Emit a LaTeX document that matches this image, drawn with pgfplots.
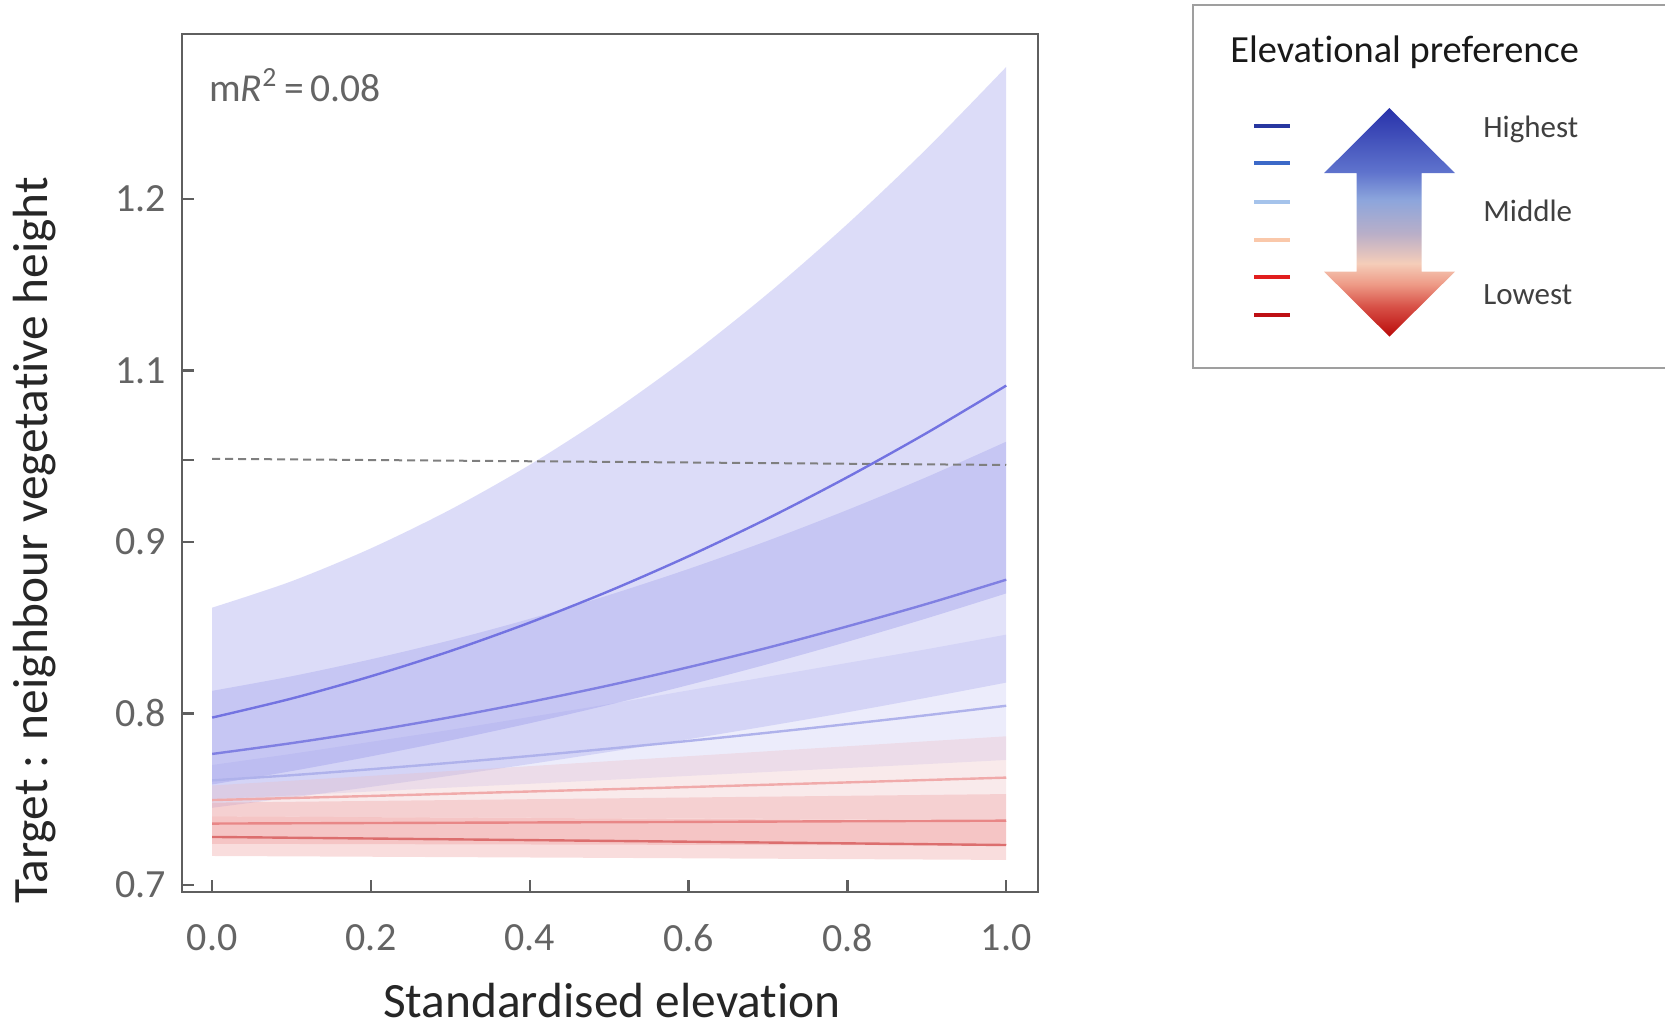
\documentclass[border=0pt]{standalone}
\usepackage{fontspec}
\setmainfont[Ligatures=NoCommon]{Carlito}
\usepackage{pgfplots}
\usepackage{pgfplotstable}
\pgfplotsset{compat=1.18}
\usepgfplotslibrary{fillbetween}

\definecolor{axgray}{RGB}{95,95,95}
\definecolor{tkgray}{RGB}{100,100,100}
\definecolor{rb1}{RGB}{110,110,225}
\definecolor{rb2}{RGB}{110,110,225}
\definecolor{rb3}{RGB}{150,150,235}
\definecolor{rb4}{RGB}{235,185,190}
\definecolor{rb5}{RGB}{235,130,130}
\definecolor{rb6}{RGB}{230,120,120}
\definecolor{ln1}{RGB}{115,115,225}
\definecolor{ln2}{RGB}{128,128,226}
\definecolor{ln3}{RGB}{175,178,235}
\definecolor{ln4}{RGB}{240,170,170}
\definecolor{ln5}{RGB}{232,135,135}
\definecolor{ln6}{RGB}{220,110,110}
\definecolor{lg1}{RGB}{40,55,160}
\definecolor{lg2}{RGB}{60,105,200}
\definecolor{lg3}{RGB}{165,195,235}
\definecolor{lg4}{RGB}{250,200,170}
\definecolor{lg5}{RGB}{225,30,30}
\definecolor{lg6}{RGB}{190,15,20}
\definecolor{ar1}{RGB}{40,50,170}
\definecolor{ar2}{RGB}{95,115,205}
\definecolor{ar3}{RGB}{140,165,220}
\definecolor{ar3b}{RGB}{185,175,200}
\definecolor{ar4}{RGB}{245,205,185}
\definecolor{ar4b}{RGB}{238,155,135}
\definecolor{ar5}{RGB}{215,80,70}
\definecolor{ar6}{RGB}{185,10,10}

\pgfdeclareverticalshading{elevarrow}{100bp}{color(0bp)=(ar6); color(25bp)=(ar6); color(31.5bp)=(ar5); color(36.5bp)=(ar4b); color(41bp)=(ar4); color(47.5bp)=(ar3b); color(55bp)=(ar3); color(61bp)=(ar2); color(75bp)=(ar1); color(100bp)=(ar1)}

\pgfplotstableread{
x lo mid hi
0.0 0.7586 0.7976 0.8617
0.1 0.7664 0.8087 0.8771
0.2 0.7750 0.8217 0.8963
0.3 0.7843 0.8364 0.9189
0.4 0.7943 0.8530 0.9450
0.5 0.8051 0.8714 0.9747
0.6 0.8166 0.8917 1.0080
0.7 0.8288 0.9138 1.0449
0.8 0.8418 0.9378 1.0854
0.9 0.8555 0.9636 1.1294
1.0 0.8700 0.9912 1.1770
}\sA
\pgfplotstableread{
x lo mid hi
0.0 0.7450 0.7764 0.8132
0.1 0.7510 0.7827 0.8217
0.2 0.7572 0.7898 0.8316
0.3 0.7637 0.7978 0.8427
0.4 0.7705 0.8067 0.8552
0.5 0.7776 0.8164 0.8691
0.6 0.7850 0.8270 0.8843
0.7 0.7927 0.8384 0.9008
0.8 0.8007 0.8508 0.9187
0.9 0.8092 0.8639 0.9379
1.0 0.8180 0.8780 0.9585
}\sB
\pgfplotstableread{
x lo mid hi
0.0 0.7500 0.7610 0.7700
0.1 0.7522 0.7640 0.7765
0.2 0.7545 0.7675 0.7835
0.3 0.7568 0.7712 0.7905
0.4 0.7590 0.7752 0.7980
0.5 0.7613 0.7795 0.8055
0.6 0.7636 0.7840 0.8135
0.7 0.7659 0.7888 0.8215
0.8 0.7682 0.7938 0.8295
0.9 0.7705 0.7990 0.8375
1.0 0.7729 0.8045 0.8460
}\sC
\pgfplotstableread{
x lo mid hi
0.0 0.7400 0.7495 0.7580
0.2 0.7396 0.7519 0.7636
0.4 0.7392 0.7545 0.7693
0.6 0.7388 0.7571 0.7751
0.8 0.7384 0.7598 0.7809
1.0 0.7380 0.7626 0.7867
}\sD
\pgfplotstableread{
x lo mid hi
0.0 0.7240 0.7358 0.7480
0.5 0.7235 0.7366 0.7505
1.0 0.7230 0.7375 0.7530
}\sE
\pgfplotstableread{
x lo mid hi
0.0 0.7169 0.7280 0.7400
0.5 0.7158 0.7257 0.7388
1.0 0.7146 0.7233 0.7375
}\sF

\begin{document}
\begin{tikzpicture}
\begin{axis}[
  at={(91pt,68.5pt)}, anchor=south west,
  scale only axis, width=428pt, height=429pt,
  xmin=-0.038, xmax=1.040, ymin=0.6959, ymax=1.1962,
  axis line style={axgray, line width=1.2pt},
  tick style={axgray, line width=1.2pt},
  major tick length=6pt,
  tick align=inside,
  xtick pos=bottom, ytick pos=left,
  xtick={0,0.2,0.4,0.6,0.8,1.0},
  xticklabels={0.0,0.2,0.4,0.6,0.8,1.0},
  ytick={0.7,0.8,0.9,0.9478,1.0,1.1},
  yticklabels={0.7,0.8,0.9,{},1.1,1.2},
  /pgf/number format/assume math mode=true,
  tick label style={font=\fontsize{20}{24}\selectfont, text=tkgray},
  xticklabel style={yshift=-12.5pt},
  yticklabel style={xshift=-4.5pt},
  xlabel={Standardised elevation},
  ylabel={Target : neighbour vegetative height},
  label style={font=\fontsize{24.7}{28}\selectfont, text=black!85, inner sep=0pt},
  xlabel style={at={(axis description cs:0.5023,-0.126)}, anchor=center},
  ylabel style={at={(axis description cs:-0.1717,0.4097)}, anchor=center},
]
% ribbons
\addplot[draw=none, smooth, name path=h1] table[x=x,y=hi]{\sA};
\addplot[draw=none, smooth, name path=l1] table[x=x,y=lo]{\sA};
\addplot[fill=rb1, fill opacity=0.24, draw=none] fill between[of=h1 and l1];
\addplot[draw=none, smooth, name path=h2] table[x=x,y=hi]{\sB};
\addplot[draw=none, smooth, name path=l2] table[x=x,y=lo]{\sB};
\addplot[fill=rb2, fill opacity=0.2, draw=none] fill between[of=h2 and l2];
\addplot[draw=none, smooth, name path=h3] table[x=x,y=hi]{\sC};
\addplot[draw=none, smooth, name path=l3] table[x=x,y=lo]{\sC};
\addplot[fill=rb3, fill opacity=0.18, draw=none] fill between[of=h3 and l3];
\addplot[draw=none, name path=h4] table[x=x,y=hi]{\sD};
\addplot[draw=none, name path=l4] table[x=x,y=lo]{\sD};
\addplot[fill=rb4, fill opacity=0.3, draw=none] fill between[of=h4 and l4];
\addplot[draw=none, name path=h5] table[x=x,y=hi]{\sE};
\addplot[draw=none, name path=l5] table[x=x,y=lo]{\sE};
\addplot[fill=rb5, fill opacity=0.25, draw=none] fill between[of=h5 and l5];
\addplot[draw=none, name path=h6] table[x=x,y=hi]{\sF};
\addplot[draw=none, name path=l6] table[x=x,y=lo]{\sF};
\addplot[fill=rb6, fill opacity=0.25, draw=none] fill between[of=h6 and l6];
% reference line
\addplot[axgray!80, line width=1pt, dash pattern=on 4pt off 2.5pt] coordinates {(0,0.9485) (1,0.9449)};
% fitted lines
\addplot[ln1, line width=1.2pt, smooth] table[x=x,y=mid]{\sA};
\addplot[ln2, line width=1.2pt, smooth] table[x=x,y=mid]{\sB};
\addplot[ln3, line width=1.2pt, smooth] table[x=x,y=mid]{\sC};
\addplot[ln4, line width=1.2pt] table[x=x,y=mid]{\sD};
\addplot[ln5, line width=1.2pt] table[x=x,y=mid]{\sE};
\addplot[ln6, line width=1.2pt] table[x=x,y=mid]{\sF};
\node[anchor=base west, inner sep=0pt, text=tkgray, font=\fontsize{19.8}{24}\selectfont]
  at (axis description cs:0.0315,0.9212) {m\textit{R}\textsuperscript{2}\,=\,0.08};
\end{axis}
% legend box
\draw[gray!75, line width=1pt] (832.5pt,512pt) -- (596.3pt,512pt) -- (596.3pt,330.3pt) -- (832.5pt,330.3pt);
\node[anchor=base west, inner sep=0pt, font=\fontsize{19.2}{23}\selectfont, text=black!90] at (615pt,483pt) {Elevational preference};
\draw[lg1, line width=2pt] (627pt,451.5pt) -- (645pt,451.5pt);
\draw[lg2, line width=2pt] (627pt,433pt) -- (645pt,433pt);
\draw[lg3, line width=2pt] (627pt,413.7pt) -- (645pt,413.7pt);
\draw[lg4, line width=2pt] (627pt,394.5pt) -- (645pt,394.5pt);
\draw[lg5, line width=2pt] (627pt,376.2pt) -- (645pt,376.2pt);
\draw[lg6, line width=2pt] (627pt,357pt) -- (645pt,357pt);
\shade[shading=elevarrow] (694.7pt,460.5pt) -- (727.5pt,427.9pt) -- (710.8pt,427.9pt) -- (710.8pt,378.7pt) -- (727.5pt,378.7pt) -- (694.7pt,346.2pt) -- (662pt,378.7pt) -- (678.3pt,378.7pt) -- (678.3pt,427.9pt) -- (662pt,427.9pt) -- cycle;
\node[anchor=base west, inner sep=0pt, font=\fontsize{15.5}{19}\selectfont, text=black!75] at (741.5pt,445.5pt) {Highest};
\node[anchor=base west, inner sep=0pt, font=\fontsize{15.5}{19}\selectfont, text=black!75] at (741.5pt,403.7pt) {Middle};
\node[anchor=base west, inner sep=0pt, font=\fontsize{15.5}{19}\selectfont, text=black!75] at (741.5pt,362pt) {Lowest};
\pgfresetboundingbox
\useasboundingbox (0,0) rectangle (832.5pt,514.5pt);
\end{tikzpicture}
\end{document}
